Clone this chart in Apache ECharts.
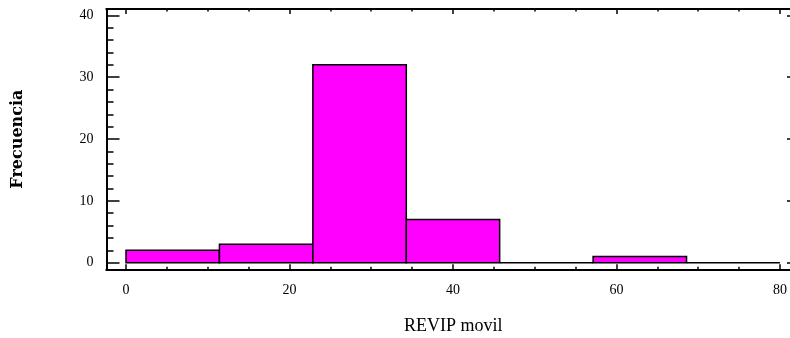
<!DOCTYPE html>
<html>
<head>
<meta charset="utf-8">
<script src="https://cdn.jsdelivr.net/npm/echarts@6/dist/echarts.min.js"></script>
<style>
	html, body { margin: 0; padding: 0; background: #fff; }
	#chart { width: 790px; height: 338px; }
</style>
</head>
<body>
<div id="chart"></div>
<script>
// histograma de REVIP movil
var binEdges = [0, 11.43, 22.86, 34.29, 45.71, 57.14, 68.57, 80];
var counts = [2, 3, 32, 7, 0, 1, 0];

var xMajor = [0, 20, 40, 60, 80];
var xMinor = [5, 10, 15, 25, 30, 35, 45, 50, 55, 65, 70, 75];
var yMajor = [0, 10, 20, 30, 40];
var yMinor = [2, 4, 6, 8, 12, 14, 16, 18, 22, 24, 26, 28, 32, 34, 36, 38];

var xName = 'REVIP movil';
var yName = 'Frecuencia';

var binData = [];
for (var i = 0; i < counts.length; i++) {
	binData.push([binEdges[i], binEdges[i + 1], counts[i]]);
}

var xMin = -2.385, xMax = 82.45;
var yMin = -1.07, yMax = 41.02;
var serif = 'Liberation Serif';

function xAx(pos, ticks, len, opts) {
	var a = {
		type: 'value', position: pos, min: xMin, max: xMax,
		splitLine: { show: false },
		axisLine: { show: true, onZero: false, lineStyle: { color: '#000', width: 2 } },
		axisTick: { show: true, inside: true, length: len, customValues: ticks, lineStyle: { color: '#000', width: 1.5 } },
		axisLabel: { show: false }
	};
	for (var k in opts) a[k] = opts[k];
	return a;
}

function yAx(pos, ticks, len, opts) {
	var a = {
		type: 'value', position: pos, min: yMin, max: yMax,
		splitLine: { show: false },
		axisLine: { show: true, onZero: false, lineStyle: { color: '#000', width: 2 } },
		axisTick: { show: true, inside: true, length: len, customValues: ticks, lineStyle: { color: '#000', width: 1.5 } },
		axisLabel: { show: false }
	};
	for (var k in opts) a[k] = opts[k];
	return a;
}

var chart = echarts.init(document.getElementById('chart'));

var option = {
	animation: false,
	backgroundColor: '#fff',
	grid: { left: 106.5, top: 9, width: 693.5, height: 260.3, containLabel: false, outerBoundsMode: 'none' },
	xAxis: [
		xAx('bottom', xMajor, 5, {
			axisLabel: { show: true, customValues: xMajor, margin: 14, color: '#000', fontFamily: serif, fontSize: 14 },
			name: xName, nameLocation: 'middle', nameGap: 48,
			nameTextStyle: { color: '#000', fontFamily: serif, fontSize: 18 }
		}),
		xAx('bottom', xMinor, 2.5, {}),
		xAx('top', xMajor, 5, {}),
		xAx('top', xMinor, 2.5, {})
	],
	yAxis: [
		yAx('left', yMajor, 13, {
			axisLabel: { show: true, customValues: yMajor, margin: 13, color: '#000', fontFamily: serif, fontSize: 14 },
			name: yName, nameLocation: 'middle', nameGap: 81, nameRotate: 90,
			nameTextStyle: { color: '#000', fontFamily: 'DejaVu Serif', fontWeight: 'bold', fontSize: 16 }
		}),
		yAx('left', yMinor, 7, {}),
		yAx('right', yMajor, 13, {}),
		yAx('right', yMinor, 7, {})
	],
	series: [
		{
			type: 'custom',
			xAxisIndex: 0,
			yAxisIndex: 0,
			clip: false,
			encode: { x: [0, 1], y: 2 },
			data: binData,
			renderItem: function(params, api) {
				var p0 = api.coord([api.value(0), api.value(2)]);
				var p1 = api.coord([api.value(1), 0]);
				return {
					type: 'rect',
					shape: { x: p0[0], y: p0[1], width: p1[0] - p0[0], height: p1[1] - p0[1] },
					style: { fill: '#ff00ff', stroke: '#000', lineWidth: 1.5 }
				};
			}
		}
	]
};

chart.setOption(option);
</script>
</body>
</html>
